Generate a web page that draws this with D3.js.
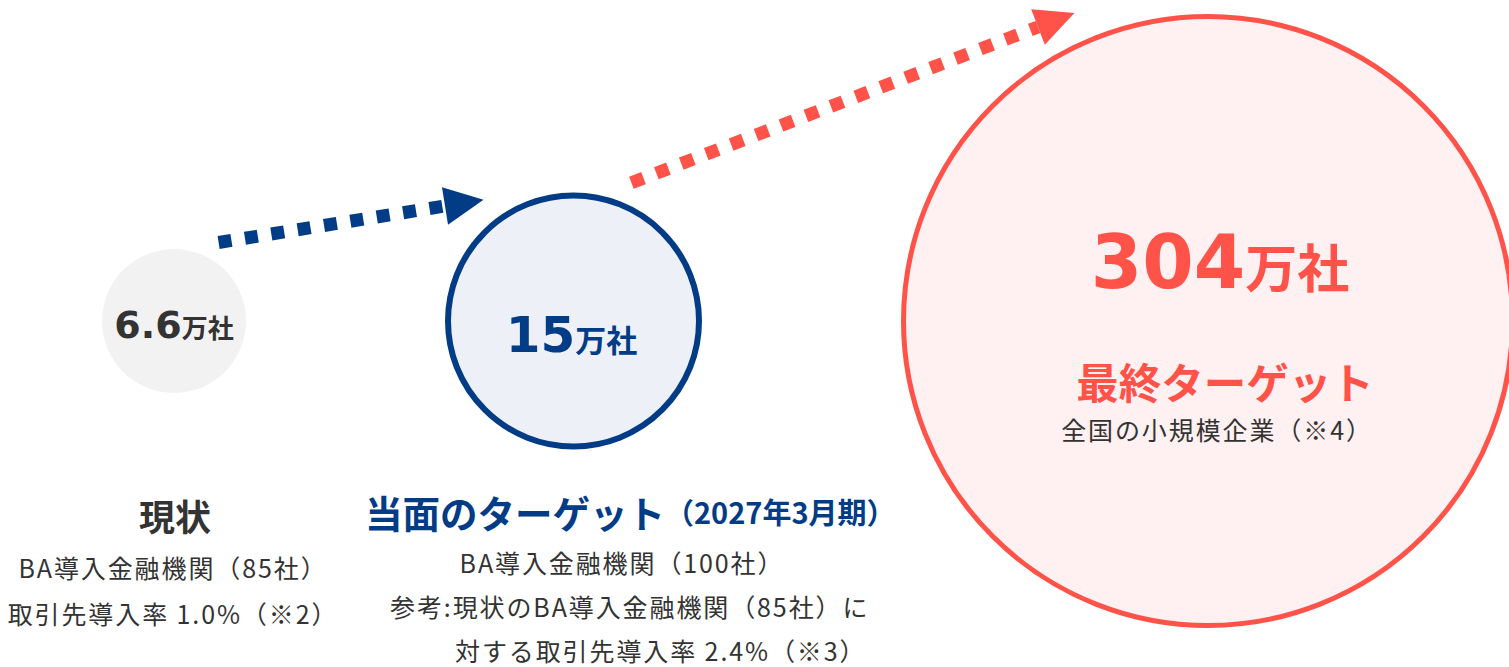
<!DOCTYPE html>
<html>
<head>
<meta charset="utf-8">
<script src="https://cdn.jsdelivr.net/npm/d3@7"></script>
<style>
  html, body { margin: 0; padding: 0; background: #ffffff; overflow: hidden; }
  svg { display: block; }
</style>
</head>
<body>
<svg id="chart" width="1509" height="667"></svg>
<script>
// ---------- data ----------
const stages = ["現状", "当面のターゲット", "最終ターゲット"];
const values = [6.6, 15, 304];
const unit = "万社";
const stageNotes = ["", "（2027年3月期）", ""];
const detailLines = [
  ["BA導入金融機関（85社）", "取引先導入率 1.0%（※2）"],
  ["BA導入金融機関（100社）", "参考:現状のBA導入金融機関（85社）に", "対する取引先導入率 2.4%（※3）"],
  ["全国の小規模企業（※4）"]
];

// ---------- styles / layout ----------
const W = 1509, H = 667;
const JP = "'Noto Sans CJK JP', 'Noto Sans CJK SC', sans-serif";
const NUM = "'DejaVu Sans', 'Noto Sans CJK JP', sans-serif";
const styles = [
  { fill: "#f2f2f2", stroke: "none",    sw: 0,   text: "#333333", numSize: 38, unitSize: 26 },
  { fill: "#edf1f7", stroke: "#023c86", sw: 6,   text: "#023c86", numSize: 50, unitSize: 31 },
  { fill: "#fff0f1", stroke: "#ff5349", sw: 5,   text: "#ff5349", numSize: 74, unitSize: 52 }
];
const cy = 321;
const firstCx = 174;
const gap = 199;

const svg = d3.select("#chart");

// radius scale (illustrative, log-based)
const rScale = d3.scaleLog().domain(values).range([72, 125.5, 304.5]);

// centres laid out edge-to-edge with a constant gap
const nodes = values.map((v, i) => ({ v, i, r: rScale(v), sw: styles[i].sw }));
nodes.forEach((d, i) => {
  d.outer = d.r + d.sw / 2;
  d.cx = i === 0 ? firstCx : nodes[i - 1].cx + nodes[i - 1].outer + gap + d.outer;
  d.cy = cy;
});

// ---------- arrows ----------
const arrows = [
  { from: [218.6, 242.5], to: [445, 206], color: styles[1].stroke },
  { from: [631.4, 182.8], to: [1038, 27], color: styles[2].stroke }
];
const headLen = 39, headHalf = 19;
arrows.forEach(a => {
  const dx = a.to[0] - a.from[0], dy = a.to[1] - a.from[1];
  const len = Math.hypot(dx, dy);
  const ux = dx / len, uy = dy / len;
  const px = -uy, py = ux;
  svg.append("line")
    .attr("x1", a.from[0]).attr("y1", a.from[1])
    .attr("x2", a.to[0]).attr("y2", a.to[1])
    .attr("stroke", a.color).attr("stroke-width", 13)
    .attr("stroke-dasharray", "13 13.7")
    .attr("stroke-linecap", "butt");
  const tip = [a.to[0] + ux * headLen, a.to[1] + uy * headLen];
  const b1 = [a.to[0] + px * headHalf, a.to[1] + py * headHalf];
  const b2 = [a.to[0] - px * headHalf, a.to[1] - py * headHalf];
  svg.append("path")
    .attr("d", d3.line()([b1, tip, b2]) + "Z")
    .attr("fill", a.color);
});

// ---------- circles ----------
svg.selectAll("circle.stage")
  .data(nodes)
  .join("circle")
  .attr("class", "stage")
  .attr("cx", d => d.cx)
  .attr("cy", d => d.cy)
  .attr("r", d => d.r)
  .attr("fill", d => styles[d.i].fill)
  .attr("stroke", d => styles[d.i].stroke)
  .attr("stroke-width", d => d.sw);

// value labels inside circles
const valuePos = [
  { dx: 0, y: 338 },
  { dx: -2, y: 352 },
  { dx: 12, y: 288 }
];
nodes.forEach((d, i) => {
  const t = svg.append("text")
    .attr("x", d.cx + valuePos[i].dx)
    .attr("y", valuePos[i].y)
    .attr("text-anchor", "middle")
    .attr("fill", styles[i].text)
    .attr("font-weight", "bold");
  t.append("tspan")
    .attr("font-family", NUM)
    .attr("font-size", styles[i].numSize)
    .text(d3.format("")(values[i]));
  t.append("tspan")
    .attr("font-family", JP)
    .attr("font-size", styles[i].unitSize)
    .text(unit);
});

// ---------- stage titles & details ----------
const body = { size: 25, ls: 1.9, color: "#333333" };

// stage 0: below grey circle
svg.append("text")
  .attr("x", 175).attr("y", 515)
  .attr("text-anchor", "middle").attr("dominant-baseline", "central")
  .attr("font-family", JP).attr("font-weight", "bold").attr("font-size", 36)
  .attr("fill", styles[0].text)
  .text(stages[0]);
const det0Y = [567, 613];
detailLines[0].forEach((s, j) => {
  svg.append("text")
    .attr("x", 173).attr("y", det0Y[j])
    .attr("text-anchor", "middle").attr("dominant-baseline", "central")
    .attr("font-family", JP).attr("font-size", body.size)
    .attr("letter-spacing", body.ls)
    .attr("fill", body.color)
    .text(s);
});

// stage 1: below blue circle
const t1 = svg.append("text")
  .attr("x", 365).attr("y", 511)
  .attr("dominant-baseline", "central")
  .attr("font-family", JP).attr("font-weight", "bold")
  .attr("fill", styles[1].text);
t1.append("tspan").attr("font-size", 37.5).text(stages[1]);
t1.append("tspan").attr("font-size", 29).text(stageNotes[1]);

const det1 = [
  { x: 622, y: 562, anchor: "middle" },
  { x: 390, y: 606, anchor: "start" },
  { x: 455, y: 650, anchor: "start" }
];
detailLines[1].forEach((s, j) => {
  svg.append("text")
    .attr("x", det1[j].x).attr("y", det1[j].y)
    .attr("text-anchor", det1[j].anchor).attr("dominant-baseline", "central")
    .attr("font-family", JP).attr("font-size", body.size)
    .attr("letter-spacing", body.ls)
    .attr("fill", body.color)
    .text(s);
});

// stage 2: inside red circle
svg.append("text")
  .attr("x", nodes[2].cx + 17).attr("y", 380)
  .attr("text-anchor", "middle").attr("dominant-baseline", "central")
  .attr("font-family", JP).attr("font-weight", "bold").attr("font-size", 42.5)
  .attr("fill", styles[2].text)
  .text(stages[2]);
svg.append("text")
  .attr("x", nodes[2].cx + 9).attr("y", 429)
  .attr("text-anchor", "middle").attr("dominant-baseline", "central")
  .attr("font-family", JP).attr("font-size", body.size)
  .attr("letter-spacing", body.ls)
  .attr("fill", body.color)
  .text(detailLines[2][0]);
</script>
</body>
</html>
